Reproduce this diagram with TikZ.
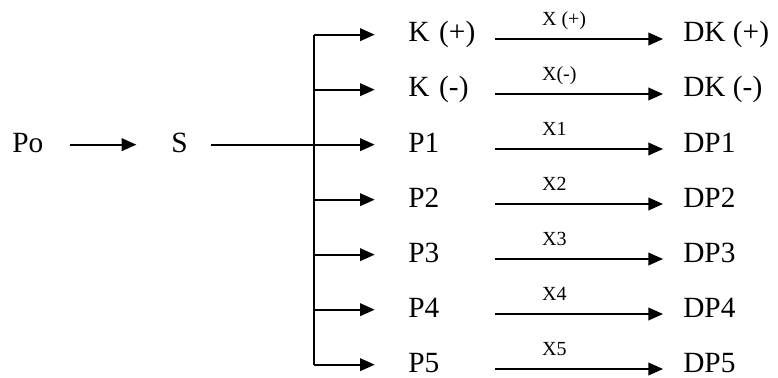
\documentclass[tikz,border=0pt]{standalone}
\usepackage{fontspec}
\setmainfont{Liberation Serif}
\usetikzlibrary{arrows.meta, calc}

\begin{document}
\begin{tikzpicture}[
  x=0.75pt, y=-0.75pt,
  >={Triangle[length=11pt, width=9.5pt]},
  every node/.style={font=\fontsize{22}{26}\selectfont, inner sep=0pt, text height=15pt, text depth=4pt},
  term/.style   = {anchor=base west},
  rowtxt/.style = {anchor=base west, text width=65pt, align=left},
  xlab/.style   = {font=\fontsize{15}{18}\selectfont, text height=10pt, text depth=3pt, anchor=base west},
  line/.style   = {line width=1.3pt},
  arr/.style    = {line, ->},
]
  \useasboundingbox (0,0) rectangle (778,378);
  \node[term] (po) at (12,152)  {Po};
  \node[term] (s)  at (171,152) {S};
  \coordinate (spine) at (314,0);
  \draw[arr, shorten <=19.5pt, shorten >=26pt] (po.east) -- (s.west);
  \draw[line, shorten <=17pt] (s.east) -- (spine |- s.east);
  \foreach \n/\t/\x/\d [count=\i from 0] in {kp/K (+)/X (+)/DK (+), km/K (-)/X(-)/DK (-),
                     p1/P1/X1/DP1, p2/P2/X2/DP2, p3/P3/X3/DP3, p4/P4/X4/DP4, p5/P5/X5/DP5}{
    \node[rowtxt] (\n)  at (408, 42+55*\i) {\t};
    \node[term]   (d\n) at (683, 42+55*\i) {\d};
    \draw[arr, shorten >=25pt] (spine |- \n.west) -- (\n.west);
    \draw[arr, shorten >=15pt] ([yshift=2.25pt]\n.base east) --
      node[xlab, pos=0.245, yshift=10pt] {\x} ([yshift=2.25pt]d\n.base west);
  }
  \draw[line] (spine |- kp.west) -- (spine |- p5.west);
\end{tikzpicture}
\end{document}
